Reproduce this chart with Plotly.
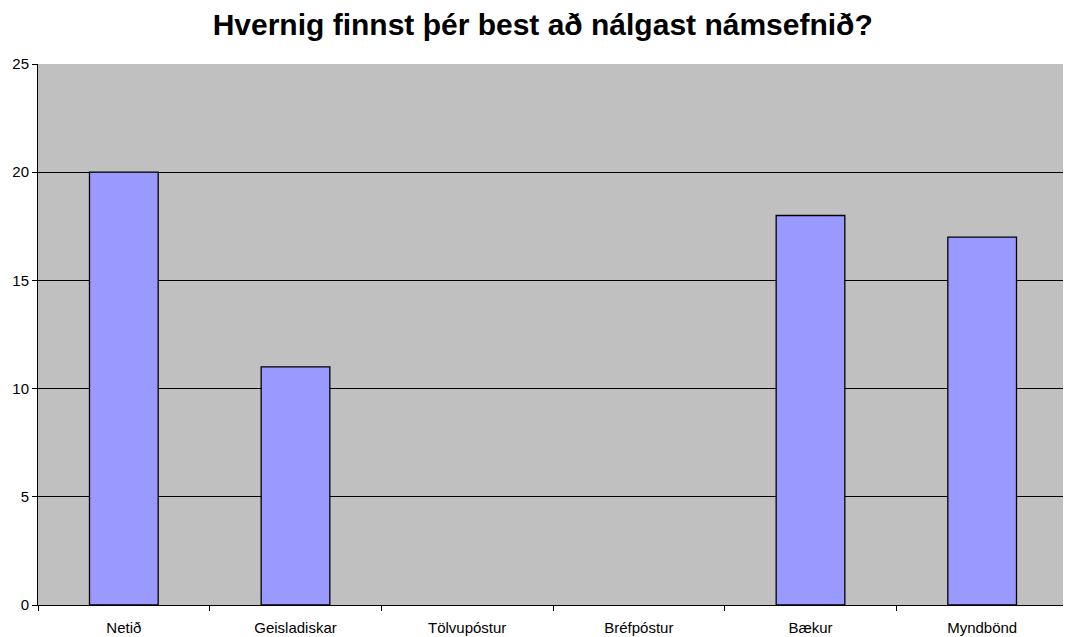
import plotly.graph_objects as go

# Gögn lesin af myndinni
categories = ['Netið', 'Geisladiskar', 'Tölvupóstur', 'Bréfpóstur', 'Bækur', 'Myndbönd']
values = [20, 11, 0, 0, 18, 17]
y_ticks = [0, 5, 10, 15, 20, 25]

# engin útlína á súlum sem eru 0
line_widths = [1.3 if v > 0 else 0 for v in values]

fig = go.Figure()

fig.add_trace(go.Bar(
    x=categories,
    y=values,
    marker=dict(color='#9999FF', line=dict(color='black', width=line_widths)),
    width=0.4,
    hoverinfo='x+y',
))

fig.update_layout(
    title=dict(text='<b>Hvernig finnst þér best að nálgast námsefnið?</b>',
               x=0.503, xanchor='center', y=0.973, yanchor='middle',
               font=dict(family='Liberation Sans, Arial', size=30, color='black')),
    width=1063, height=629,
    margin=dict(l=30, r=3, t=56, b=32),
    plot_bgcolor='#C0C0C0',
    paper_bgcolor='white',
    showlegend=False,
    font=dict(family='Liberation Sans, Arial', size=15, color='black'),
)

fig.update_xaxes(
    type='category',
    automargin=False,
    tickson='boundaries',
    ticks='outside', ticklen=5, tickcolor='black',
    ticklabelstandoff=9,
    showline=True, linecolor='black', linewidth=1,
    showgrid=False,
    tickfont=dict(size=15),
)

fig.update_yaxes(
    range=[0, 25],
    automargin=False,
    tickvals=y_ticks,
    ticks='outside', ticklen=5, tickcolor='black',
    showline=True, linecolor='black', linewidth=1,
    showgrid=True, gridcolor='black', gridwidth=1,
    zeroline=False,
    tickfont=dict(size=15),
)

fig.write_html('out.html')
